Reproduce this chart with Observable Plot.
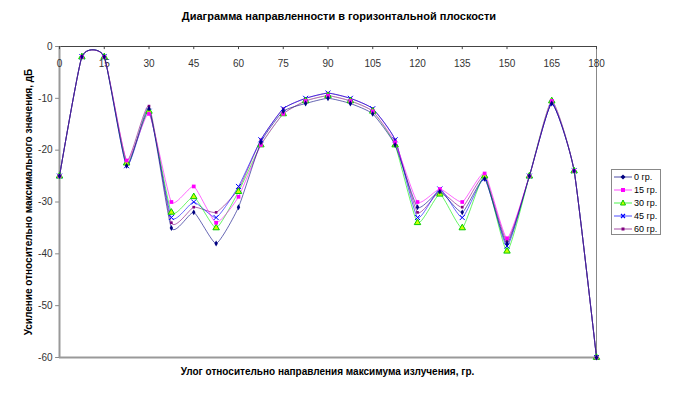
<!DOCTYPE html>
<html>
<head>
<meta charset="utf-8">
<script src="https://cdn.jsdelivr.net/npm/d3@7"></script>
<script src="https://cdn.jsdelivr.net/npm/@observablehq/plot@0.6"></script>
<style>
  body { margin: 0; background: #fff; font-family: "Liberation Sans", Arial, sans-serif; }
  #wrap { position: relative; width: 678px; height: 398px; overflow: hidden; }
  #chart { position: absolute; left: 0; top: 0; }
  .title { position: absolute; left: 0; width: 678px; top: 10px; text-align: center; font-weight: bold; font-size: 11px; color: #000; }
  .xlabel { position: absolute; left: 59px; width: 537px; top: 366px; text-align: center; font-weight: bold; font-size: 10px; color: #000; }
  #legend { position: absolute; left: 611px; top: 169px; width: 48px; height: 64px; border: 1px solid #888; background: #fff; font-size: 9px; }
  #legend .row { position: absolute; left: 2px; height: 13px; display: flex; align-items: center; white-space: nowrap; }
  #legend .row span { margin-left: 2px; color: #000; }
</style>
</head>
<body>
<div id="wrap">
  <div id="chart"></div>
  <div class="title">Диаграмма направленности в горизонтальной плоскости</div>
  <div class="xlabel">Улог относительно направления максимума излучения, гр.</div>
  <div id="legend"></div>
</div>
<script>
// Angles (degrees)
const angles = [0, 7.5, 15, 22.5, 30, 37.5, 45, 52.5, 60, 67.5, 75, 82.5, 90, 97.5, 105, 112.5, 120, 127.5, 135, 142.5, 150, 157.5, 165, 172.5, 180];
// Series values (dB)
const s0  = [-25, -2, -2, -23,   -12,   -35, -32, -38, -31,   -18.5, -12.5, -11,   -10,  -11,   -13,   -19,   -31, -28,   -32, -25.5, -38,   -25, -11,   -24, -60];
const s15 = [-25, -2, -2, -22,   -13,   -30, -27, -34, -29,   -19,   -13,   -10.5, -9.5, -10.5, -12.5, -18.5, -30, -27.5, -30, -24.5, -37,   -25, -10.5, -24, -60];
const s30 = [-25, -2, -2, -22.5, -12.5, -32, -29, -35, -28,   -19,   -13,   -10.5, -9.5, -10.5, -12.5, -19,   -34, -28.5, -35, -25,   -39.5, -25, -10.5, -24, -60];
const s45 = [-25, -2, -2, -23,   -12.5, -33, -30, -33, -27,   -18,   -12,   -10,   -9,   -10,   -12,   -18,   -33, -27.5, -33, -25.5, -38.5, -25, -11,   -24, -60];
const s60 = [-25, -2, -2, -22,   -11.5, -34, -31, -32, -27.5, -18,   -12,   -10,   -9,   -10,   -12,   -18,   -32, -28,   -31, -25,   -37.5, -25, -11,   -24, -60];
const seriesNames = ["0 гр.", "15 гр.", "30 гр.", "45 гр.", "60 гр."];
const xTicks = [0, 15, 30, 45, 60, 75, 90, 105, 120, 135, 150, 165, 180];
const yTicks = [0, -10, -20, -30, -40, -50, -60];
const yTickLabels = ["0", "-10", "-20", "-30", "-40", "-50", "-60"];
const yTitle = "Усиление относительно максимального значения, дБ";

const seriesValues = [s0, s15, s30, s45, s60];
const styles = {
  "0 гр.":  {line: "#000080", symbol: "diamond", fill: "#000080", stroke: "none", r: 1.8},
  "15 гр.": {line: "#ff00ff", symbol: "square", fill: "#ff00ff", stroke: "none", r: 2.1},
  "30 гр.": {line: "#00ee00", symbol: "triangle", fill: "#ccff00", stroke: "#00cc00", r: 2.4},
  "45 гр.": {line: "#0000ff", symbol: "times", fill: "none", stroke: "#0000ff", r: 2.4},
  "60 гр.": {line: "#800080", symbol: "square", fill: "#800080", stroke: "none", r: 1.5}
};
const data = [];
seriesNames.forEach((name, i) => angles.forEach((a, j) => data.push({series: name, angle: a, value: seriesValues[i][j]})));

const marks = [
  Plot.ruleY([0], {stroke: "#444", strokeWidth: 1}),
  Plot.ruleY([-60], {stroke: "#999", strokeWidth: 2}),
  Plot.ruleX([0], {stroke: "#999", strokeWidth: 2}),
  Plot.ruleX([180], {stroke: "#888", strokeWidth: 1}),
  Plot.ruleX(xTicks, {x: d => d, y1: 0, y2: -0.6, stroke: "#444"}),
  Plot.text(xTicks, {x: d => d, frameAnchor: "top", dy: 13, text: d => String(d), fontSize: 10, fill: "#333"}),
  Plot.ruleY(yTicks, {y: d => d, x1: 0, x2: -1.3, stroke: "#888"}),
  Plot.text(yTicks, {y: d => d, frameAnchor: "left", dx: -7, textAnchor: "end", text: (d, i) => yTickLabels[i], fontSize: 10, fill: "#333"}),
  Plot.text([yTitle], {frameAnchor: "left", dx: -31, rotate: -90, textAnchor: "middle", lineAnchor: "middle", lineWidth: 1000, text: d => d, fontSize: 10, fontWeight: "bold", fill: "#000"})
];
for (const name of seriesNames.slice().reverse()) {
  const st = styles[name];
  const sub = data.filter(d => d.series === name);
  marks.push(Plot.line(sub, {x: "angle", y: "value", curve: "cardinal", tension: 0.5, stroke: st.line, strokeWidth: 1, strokeOpacity: 0.6}));
}
for (const name of seriesNames.slice().reverse()) {
  const st = styles[name];
  const sub = data.filter(d => d.series === name);
  marks.push(Plot.dot(sub, {x: "angle", y: "value", symbol: () => st.symbol, r: st.r, fill: st.fill, stroke: st.stroke, strokeWidth: 1}));
}

const chart = Plot.plot({
  width: 678,
  height: 398,
  marginLeft: 59,
  marginRight: 82,
  marginTop: 46,
  marginBottom: 41,
  style: {fontFamily: "Liberation Sans, Arial, sans-serif", background: "transparent", overflow: "visible"},
  x: {domain: [0, 180], axis: null},
  y: {domain: [-60, 0], axis: null},
  symbol: {type: "identity"},
  clip: false,
  marks
});
document.getElementById("chart").appendChild(chart);

// Legend
const legend = document.getElementById("legend");
const symPaths = [
  '<path d="M9,2.5 L11.5,5 L9,7.5 L6.5,5 Z" fill="#000080"/>',
  '<rect x="7" y="3" width="4" height="4" fill="#ff00ff"/>',
  '<path d="M9,2 L11.5,7 L6.5,7 Z" fill="#ccff00" stroke="#00cc00" stroke-width="1"/>',
  '<path d="M7,3 L11,7 M11,3 L7,7" stroke="#0000ff" stroke-width="1.2"/>',
  '<rect x="7.5" y="3.5" width="3" height="3" fill="#800080"/>'
];
seriesNames.forEach((name, i) => {
  const row = document.createElement("div");
  row.className = "row";
  row.style.top = (i * 13) + "px";
  row.innerHTML = `<svg width="18" height="10"><line x1="0" y1="5" x2="18" y2="5" stroke="${styles[name].line}" stroke-width="1" stroke-opacity="0.7"/>${symPaths[i]}</svg><span>${name}</span>`;
  legend.appendChild(row);
});
</script>
</body>
</html>
